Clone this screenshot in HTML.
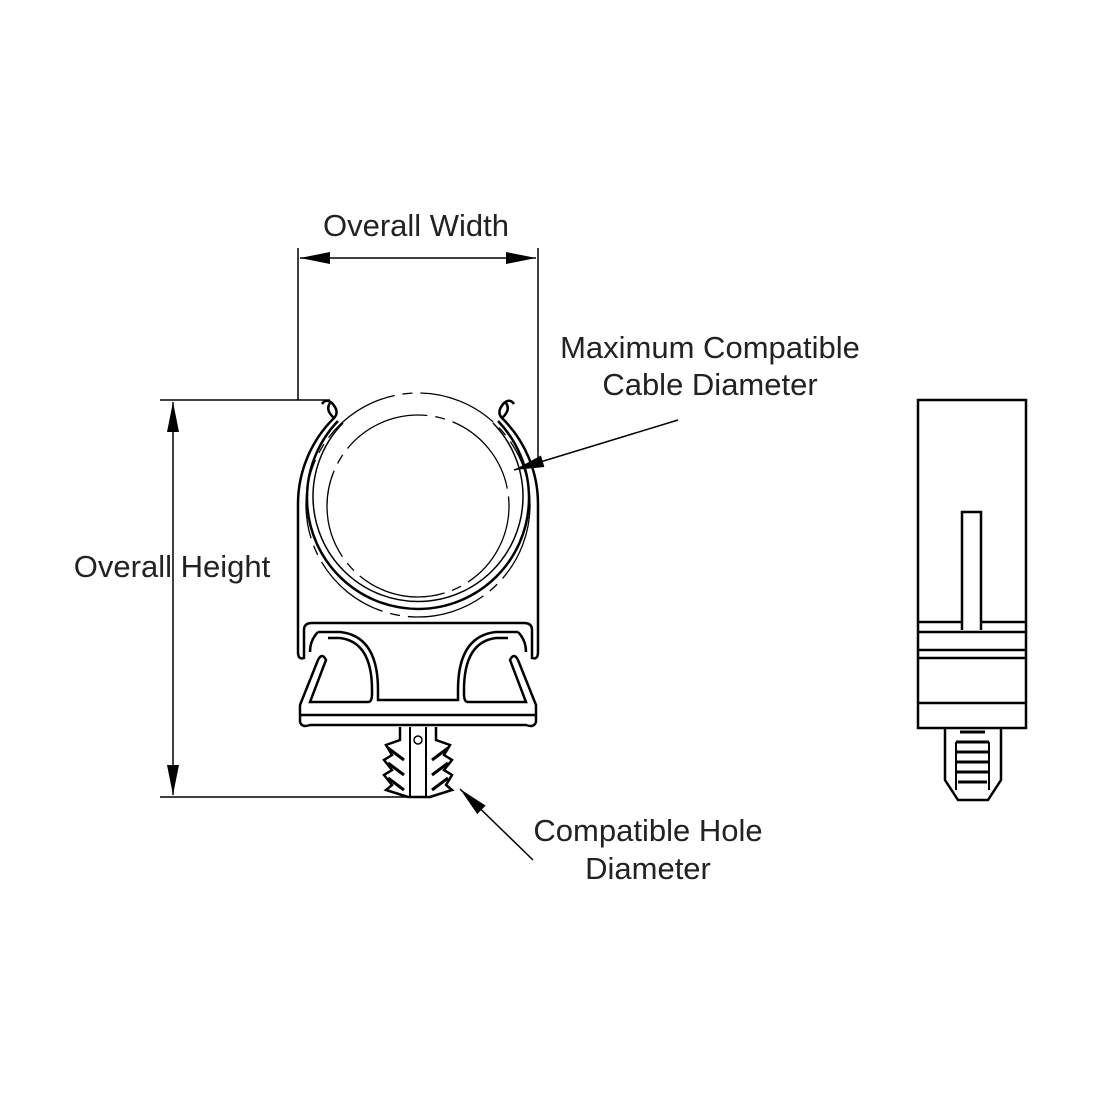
<!DOCTYPE html>
<html><head><style>
html,body{margin:0;padding:0;background:#fff;}
svg{display:block;}
text{font-family:"Liberation Sans",sans-serif;font-size:31px;fill:#222;}
</style></head><body>
<svg width="1100" height="1100" viewBox="0 0 1100 1100">
<defs>
<marker id="ar" markerWidth="30" markerHeight="12" refX="30" refY="6" orient="auto" markerUnits="userSpaceOnUse">
<path d="M0,0 L30,6 L0,12 z" fill="#000"/></marker>
</defs>
<g stroke="#000" fill="none">
<line x1="298" y1="248" x2="298" y2="400" stroke-width="1.5"/>
<line x1="538" y1="248" x2="538" y2="460" stroke-width="1.5"/>
<line x1="330" y1="258" x2="300" y2="258" stroke-width="1.5" marker-end="url(#ar)"/>
<line x1="330" y1="258" x2="536" y2="258" stroke-width="1.5" marker-end="url(#ar)"/>
<line x1="160" y1="400" x2="330" y2="400" stroke-width="1.5"/>
<line x1="160" y1="797" x2="410" y2="797" stroke-width="1.5"/>
<line x1="173" y1="600" x2="173" y2="402" stroke-width="1.5" marker-end="url(#ar)"/>
<line x1="173" y1="600" x2="173" y2="795" stroke-width="1.5" marker-end="url(#ar)"/>
<line x1="678" y1="420" x2="514" y2="470" stroke-width="1.5" marker-end="url(#ar)"/>
<line x1="533" y1="860" x2="460" y2="789" stroke-width="1.5" marker-end="url(#ar)"/>

<g stroke-width="2.5">
<path d="M330,403 Q325,410 334,418 A121,121 0 0 0 298,505 L298,652"/>
<path d="M506,403 Q511,410 502,418 A121,121 0 0 1 538,505 L538,652"/>
<path d="M334,418 Q340,412 332,403 Q326,398 322,404"/>
<path d="M502,418 Q496,412 504,403 Q510,398 514,404"/>
<path d="M338,421 A111,111 0 1 0 498,421"/>
<path d="M343,423 A105,105 0 1 0 493,423" stroke-width="1.5"/>
</g>
<circle cx="418" cy="505" r="112" stroke-width="1.3" stroke-dasharray="80 8 10 8"/>
<circle cx="418" cy="506" r="91" stroke-width="1.3" stroke-dasharray="90 8 10 8"/>
<g stroke-width="2.5">
<path d="M298,652 Q298,660 304,658 L304,630 Q304,623 312,623 L524,623 Q532,623 532,630 L532,658 Q538,660 538,652"/>
<path d="M318,632 L340,632 Q378,636 378,690 L378,700 L458,700 L458,690 Q458,636 496,632 L518,632"/>
<path d="M318,632 Q310,640 310,652"/>
<path d="M518,632 Q526,640 526,652"/>
<path d="M318,660 Q322,652 326,660 L310,702 L368,702 Q372,702 372,694 L372,690 Q372,642 340,638 L328,638"/>
<path d="M518,660 Q514,652 510,660 L526,702 L468,702 Q464,702 464,694 L464,690 Q464,642 496,638 L508,638"/>
<path d="M318,660 L300,705 L300,722 Q302,728 310,725 L526,725 Q534,728 536,722 L536,705 L518,660"/>
<path d="M300,715 L536,715"/>
<path d="M400,727 L400,740 L386,745 L392,755 L384,760 L392,770 L384,775 L392,785 L386,790 L408,797 L430,797 L452,790 L446,785 L452,775 L444,770 L452,760 L444,755 L450,745 L436,740 L436,727"/>
<path d="M410,727 L410,797 M426,727 L426,797" stroke-width="2"/>
<circle cx="418" cy="740" r="4" stroke-width="1.5"/>
<path d="M388,748 L404,760 M388,763 L404,775 M388,778 L404,790 M448,748 L432,760 M448,763 L432,775 M448,778 L432,790" stroke-width="3"/>
</g>

<g stroke-width="2.5">
<rect x="918" y="400" width="108" height="328"/>
<path d="M962,630 L962,512 L981,512 L981,630"/>
<line x1="918" y1="622" x2="962" y2="622"/><line x1="981" y1="622" x2="1026" y2="622"/>
<line x1="918" y1="632" x2="1026" y2="632"/>
<line x1="918" y1="650" x2="1026" y2="650"/>
<line x1="918" y1="658" x2="1026" y2="658"/>
<line x1="918" y1="703" x2="1026" y2="703"/>
<path d="M945,728 L945,780 L958,800 L988,800 L1001,780 L1001,728"/>
<path d="M960,732 L985,732 M956,742 L989,742 M956,752 L989,752 M956,762 L989,762 M956,772 L989,772 M958,782 L987,782" stroke-width="3"/>
<path d="M956,742 L956,790 M989,742 L989,790" stroke-width="2"/>
</g>
</g>
<text x="416" y="236" text-anchor="middle">Overall Width</text>
<text x="710" y="358" text-anchor="middle">Maximum Compatible</text>
<text x="710" y="395" text-anchor="middle">Cable Diameter</text>
<text x="172" y="577" text-anchor="middle">Overall Height</text>
<text x="648" y="841" text-anchor="middle">Compatible Hole</text>
<text x="648" y="879" text-anchor="middle">Diameter</text>
</svg>
</body></html>
